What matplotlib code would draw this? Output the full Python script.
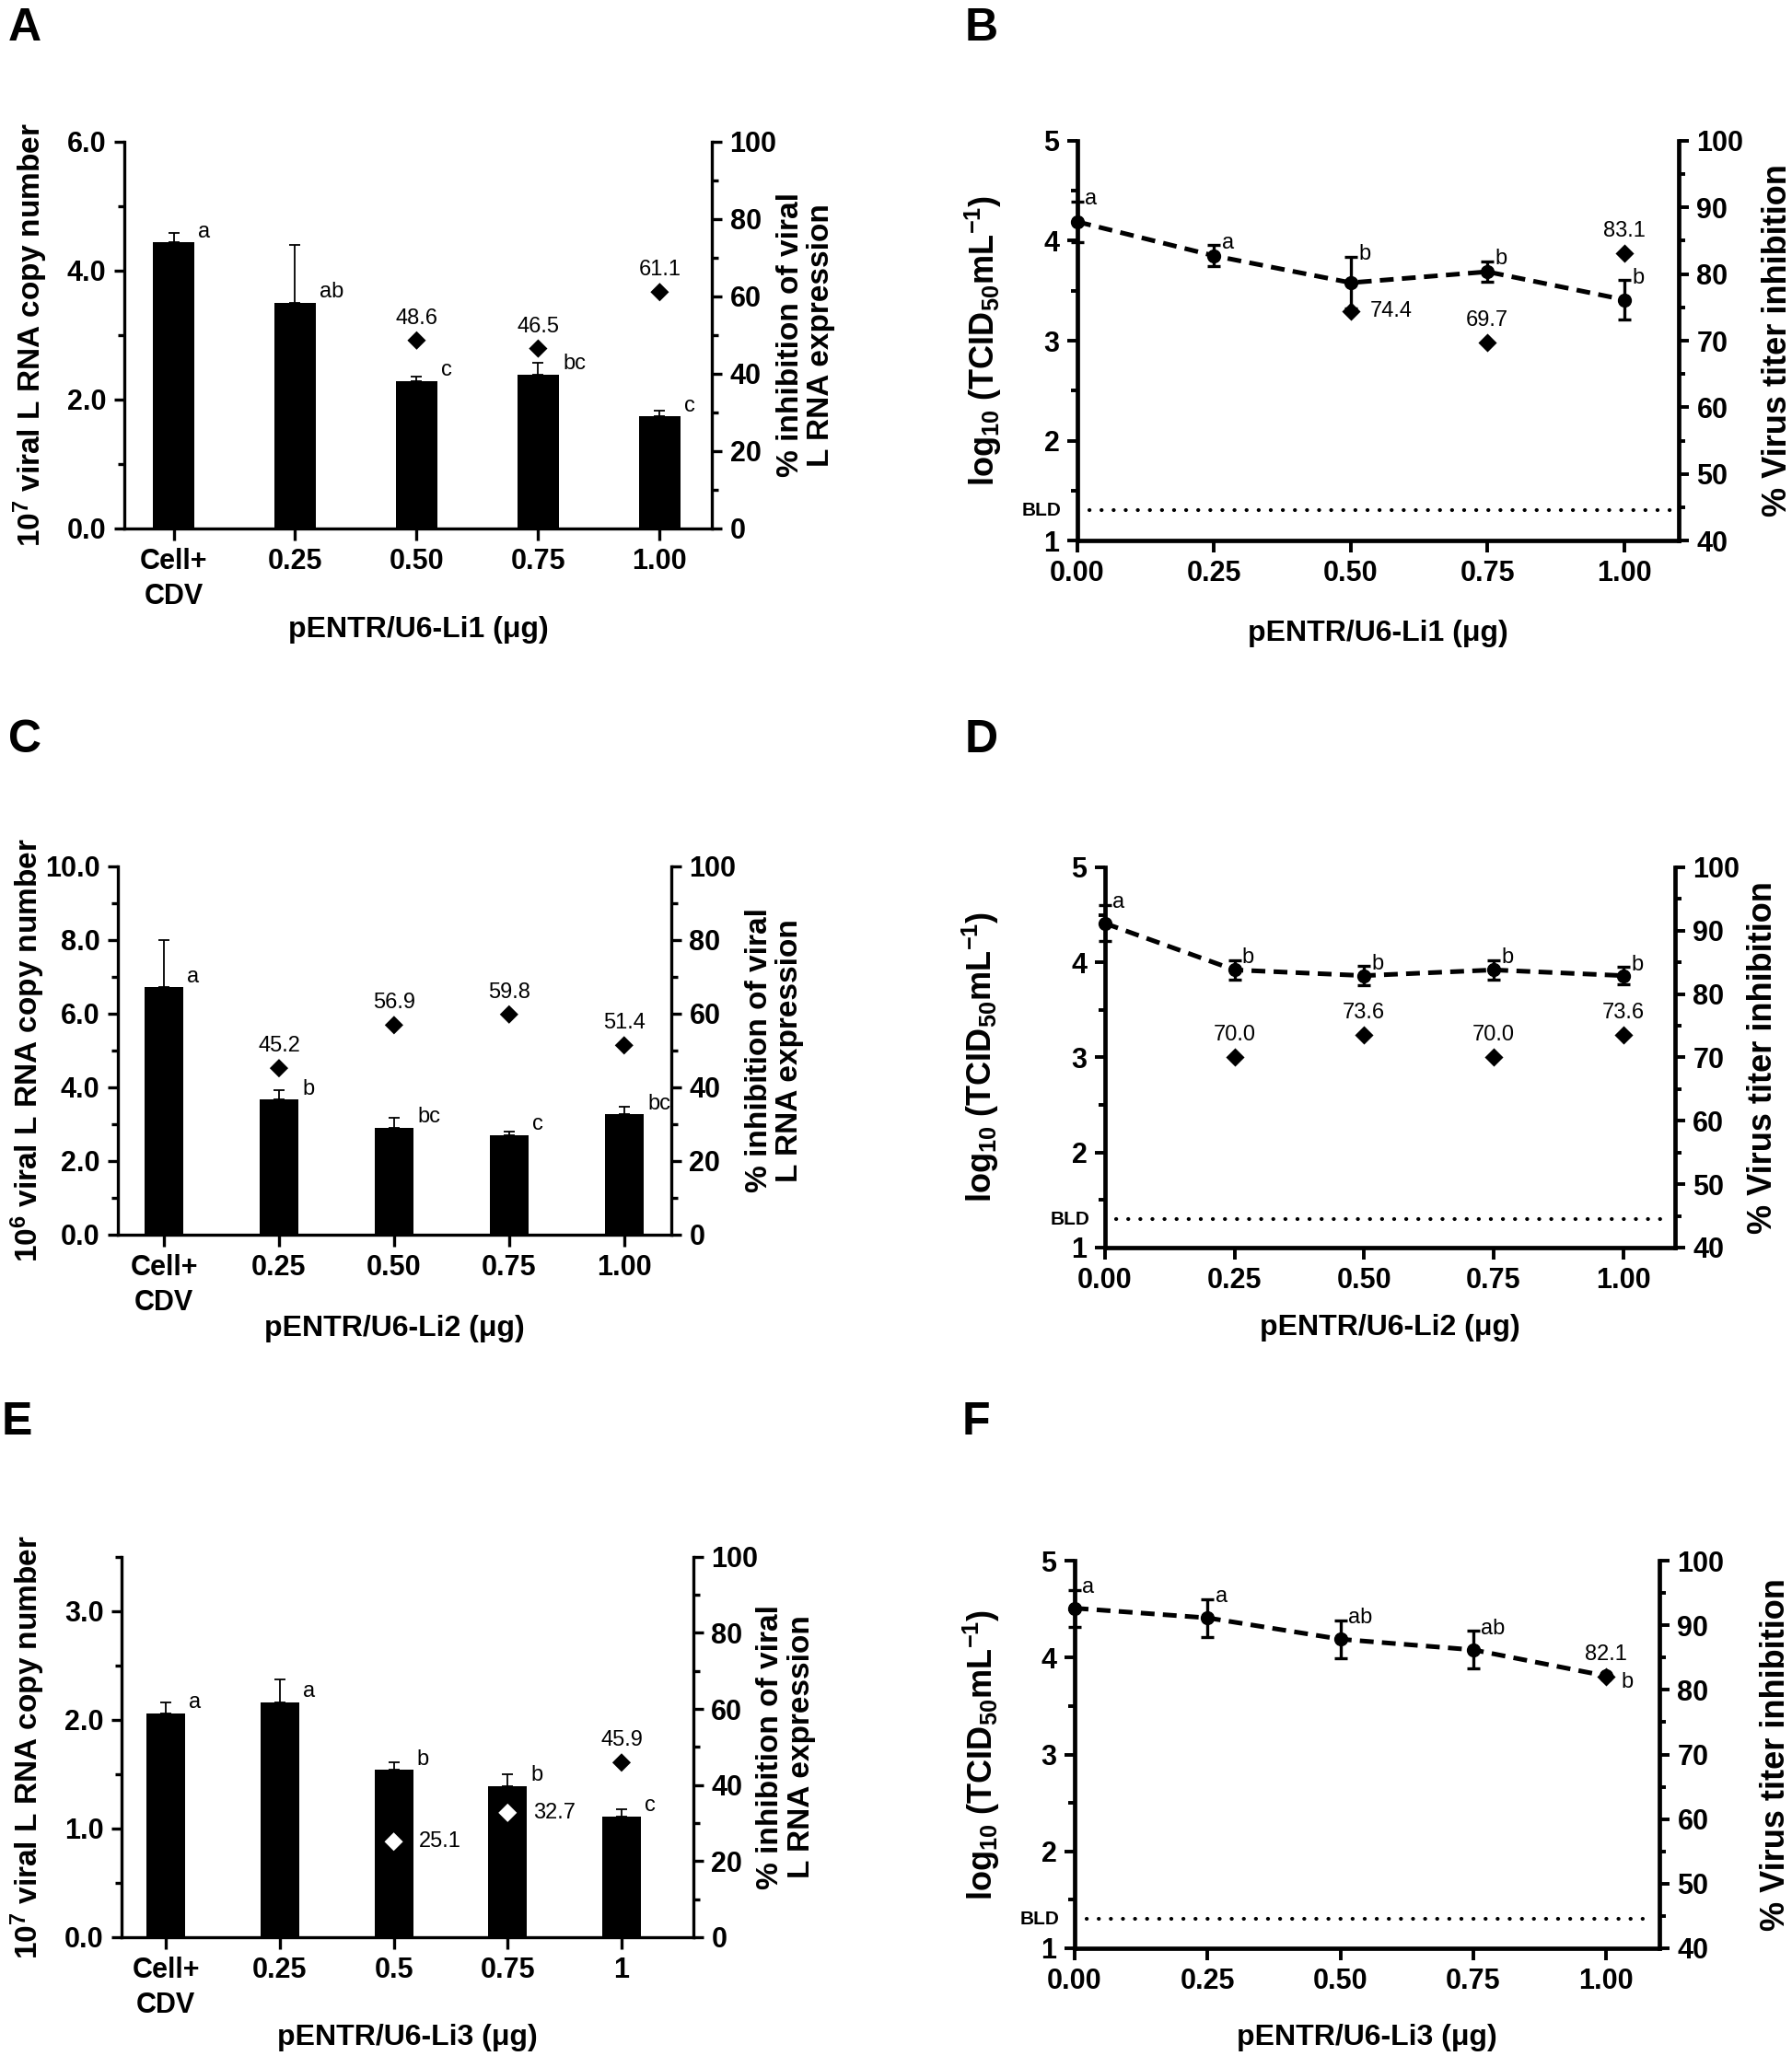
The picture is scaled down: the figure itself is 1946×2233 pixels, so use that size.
import numpy as np
import matplotlib
matplotlib.use("Agg")
import matplotlib.pyplot as plt
from matplotlib import font_manager
from matplotlib.ticker import MultipleLocator, FormatStrFormatter
from matplotlib.transforms import blended_transform_factory


def has_font(name):
    try:
        font_manager.findfont(font_manager.FontProperties(family=name), fallback_to_default=False)
        return True
    except ValueError:
        return False


plt.rcParams['font.family'] = ['Liberation Sans', 'DejaVu Sans']
plt.rcParams['font.weight'] = 'bold'
plt.rcParams['mathtext.fontset'] = 'custom'
plt.rcParams['mathtext.rm'] = 'Liberation Sans:bold'
plt.rcParams['mathtext.bf'] = 'Liberation Sans:bold'
plt.rcParams['mathtext.it'] = 'Liberation Sans:bold'

if has_font('Liberation Sans Narrow'):
    ANN_FONT, ANN_SIZE = 'Liberation Sans Narrow', 19
else:
    ANN_FONT, ANN_SIZE = 'Liberation Sans', 17

# ---------------- data ----------------
bar_labels_12 = ["Cell+\nCDV", "0.25", "0.50", "0.75", "1.00"]
bar_labels_3 = ["Cell+\nCDV", "0.25", "0.5", "0.75", "1"]

a_copy = [4.44, 3.50, 2.29, 2.39, 1.74]
a_err = [0.14, 0.90, 0.06, 0.18, 0.08]
a_letters = ["a", "ab", "c", "bc", "c"]
a_inhib = [np.nan, np.nan, 48.6, 46.5, 61.1]

c_copy = [6.72, 3.67, 2.90, 2.71, 3.27]
c_err = [1.29, 0.25, 0.28, 0.10, 0.21]
c_letters = ["a", "b", "bc", "c", "bc"]
c_inhib = [np.nan, 45.2, 56.9, 59.8, 51.4]

e_copy = [2.06, 2.16, 1.54, 1.39, 1.11]
e_err = [0.10, 0.21, 0.07, 0.11, 0.07]
e_letters = ["a", "a", "b", "b", "c"]
e_inhib = [np.nan, np.nan, 25.1, 32.7, 45.9]
e_fill = ["k", "k", "w", "w", "k"]

dose = [0.0, 0.25, 0.50, 0.75, 1.00]
bld = 1.3

b_titer = [4.19, 3.85, 3.58, 3.69, 3.41]
b_err = [0.20, 0.105, 0.26, 0.10, 0.195]
b_letters = ["a", "a", "b", "b", "b"]
b_inhib = [np.nan, np.nan, 74.4, 69.7, 83.1]

d_titer = [4.41, 3.92, 3.86, 3.92, 3.86]
d_err = [0.19, 0.10, 0.10, 0.10, 0.09]
d_letters = ["a", "b", "b", "b", "b"]
d_inhib = [np.nan, 70.0, 73.6, 70.0, 73.6]

f_titer = [4.51, 4.41, 4.19, 4.08, 3.81]
f_err = [0.19, 0.195, 0.195, 0.195, 0.0]
f_letters = ["a", "a", "ab", "ab", "b"]
f_inhib = [np.nan, np.nan, np.nan, np.nan, 82.1]

TICK_FS = 22
LAB_FS = 24
XLAB_FS = 23
DIAMOND = 105
fig = plt.figure(figsize=(19.46, 22.33), dpi=100)


def style_ticks(ax, lw):
    ax.tick_params(axis='both', which='major', labelsize=TICK_FS, width=lw, length=8, pad=6)
    ax.tick_params(axis='both', which='minor', width=lw, length=5)
    ax.tick_params(axis='x', which='major', length=9, pad=6)
    for lab in ax.get_xticklabels() + ax.get_yticklabels():
        lab.set_fontweight('bold')


def bar_panel(rect, cats, vals, errs, letters, inhib, ylim, major, minor, ylabel, xlabel,
              xlim, num_side="above", fills=None, lab_x=(-0.16, 1.18), xlab_y=-0.26):
    ax = fig.add_axes(rect)
    x = np.arange(len(vals))
    ax.bar(x, vals, width=0.34, color='k', zorder=2)
    ax.errorbar(x, vals, yerr=[np.zeros(len(errs)), errs], fmt='none', ecolor='k',
                elinewidth=1.3, capsize=4, capthick=1.3, zorder=1)
    ax.set_xlim(*xlim)
    ax.set_ylim(*ylim)
    ax.set_xticks(x)
    ax.set_xticklabels(cats, fontsize=TICK_FS, fontweight='bold', linespacing=1.35)
    ax.yaxis.set_major_locator(MultipleLocator(major))
    ax.yaxis.set_minor_locator(MultipleLocator(minor))
    ax.yaxis.set_major_formatter(FormatStrFormatter('%.1f'))
    for s in ['top', 'right']:
        ax.spines[s].set_visible(False)
    for s in ['left', 'bottom']:
        ax.spines[s].set_linewidth(2.4)
    style_ticks(ax, 2.4)

    for xi, v, lt in zip(x, vals, letters):
        ax.annotate(lt, (xi + 0.17, v), xytext=(3, 4), textcoords='offset points',
                    ha='left', va='baseline', family=ANN_FONT, fontsize=ANN_SIZE, fontweight='normal')

    ax2 = ax.twinx()
    ax2.set_ylim(0, 100)
    ax2.yaxis.set_major_locator(MultipleLocator(20))
    ax2.yaxis.set_minor_locator(MultipleLocator(10))
    for s in ['top', 'left', 'bottom']:
        ax2.spines[s].set_visible(False)
    ax2.spines['right'].set_linewidth(2.4)
    style_ticks(ax2, 2.4)
    cols = fills if fills is not None else ['k'] * len(x)
    ax2.scatter(x, inhib, marker='D', s=DIAMOND, c=cols, edgecolors=cols, linewidths=0, zorder=5)
    for xi, v in zip(x, inhib):
        if np.isnan(v):
            continue
        if num_side == "above" or (fills is not None and fills[int(xi)] == 'k'):
            ax2.annotate(f"{v:.1f}", (xi, v), xytext=(0, 13), textcoords='offset points',
                         ha='center', va='baseline', family=ANN_FONT, fontsize=ANN_SIZE,
                         fontweight='normal')
        else:
            ax2.annotate(f"{v:.1f}", (xi, v), xytext=(20, 0), textcoords='offset points',
                         ha='left', va='center', family=ANN_FONT, fontsize=ANN_SIZE,
                         fontweight='normal')

    ax.set_ylabel(ylabel, fontsize=LAB_FS, fontweight='bold', va='center')
    ax.yaxis.set_label_coords(lab_x[0], 0.5)
    ax2.set_ylabel("% inhibition of viral\nL RNA expression", fontsize=LAB_FS,
                   fontweight='bold', va='center', rotation=90, linespacing=1.1)
    ax2.yaxis.set_label_coords(lab_x[1], 0.5)
    ax.set_xlabel(xlabel, fontsize=XLAB_FS, fontweight='bold', va='center')
    ax.xaxis.set_label_coords(0.5, xlab_y)
    return ax, ax2


def line_panel(rect, titer, errs, letters, inhib, xlabel, num_pos, lab_x, xlab_y,
               letter_offsets=None):
    ax = fig.add_axes(rect)
    ax.plot(dose, titer, color='k', lw=3.6, ls=(0, (3.0, 1.8)), zorder=3, clip_on=False)
    eb = ax.errorbar(dose, titer, yerr=errs, fmt='o', ms=10, color='k', ecolor='k',
                     elinewidth=2.4, capsize=4.8, capthick=2.4, zorder=4, clip_on=False)
    for art in list(eb[1]) + list(eb[2]):
        art.set_clip_on(False)
    ax.set_xlim(0, 1.1)
    ax.set_ylim(1, 5)
    ax.set_xticks(dose)
    ax.xaxis.set_major_formatter(FormatStrFormatter('%.2f'))
    ax.yaxis.set_major_locator(MultipleLocator(1))
    ax.yaxis.set_minor_locator(MultipleLocator(0.5))
    ax.yaxis.set_major_formatter(FormatStrFormatter('%d'))
    ax.spines['top'].set_visible(False)
    ax.spines['right'].set_visible(False)
    for s in ['left', 'bottom']:
        ax.spines[s].set_linewidth(3.4)
    style_ticks(ax, 2.8)

    ax.axhline(bld, xmin=0.02, xmax=0.99, color='k', lw=3.0, ls=(0, (0.05, 3.1)),
               dash_capstyle='round')
    tr = blended_transform_factory(ax.transAxes, ax.transData)
    ax.text(-0.026, bld, "BLD", transform=tr, ha='right', va='center', fontsize=15,
            fontweight='bold')

    for i, (xi, v, e, lt) in enumerate(zip(dose, titer, errs, letters)):
        off = letter_offsets[i] if letter_offsets else (6, 2)
        ax.annotate(lt, (xi, v + e), xytext=off, textcoords='offset points', ha='left',
                    va='center', family=ANN_FONT, fontsize=ANN_SIZE, fontweight='normal')

    ax2 = ax.twinx()
    ax2.set_ylim(40, 100)
    ax2.yaxis.set_major_locator(MultipleLocator(10))
    ax2.yaxis.set_minor_locator(MultipleLocator(5))
    for s in ['top', 'left', 'bottom']:
        ax2.spines[s].set_visible(False)
    ax2.spines['right'].set_linewidth(3.4)
    style_ticks(ax2, 2.8)
    ax2.scatter(dose, inhib, marker='D', s=DIAMOND, c='k', linewidths=0, zorder=5)
    for xi, v, pos in zip(dose, inhib, num_pos):
        if np.isnan(v):
            continue
        if pos == "above":
            ax2.annotate(f"{v:.1f}", (xi, v), xytext=(0, 13), textcoords='offset points',
                         ha='center', va='baseline', family=ANN_FONT, fontsize=ANN_SIZE,
                         fontweight='normal')
        else:
            ax2.annotate(f"{v:.1f}", (xi, v), xytext=(15, 0), textcoords='offset points',
                         ha='left', va='center', family=ANN_FONT, fontsize=ANN_SIZE,
                         fontweight='normal')

    ax.set_ylabel(r"log$_{10}$ (TCID$_{50}$mL$^{-1}$)", fontsize=26, fontweight='bold',
                  va='center')
    ax.yaxis.set_label_coords(lab_x[0], 0.5)
    ax2.set_ylabel("% Virus titer inhibition", fontsize=26, fontweight='bold', va='center',
                   rotation=90)
    ax2.yaxis.set_label_coords(lab_x[1], 0.5)
    ax.set_xlabel(xlabel, fontsize=XLAB_FS, fontweight='bold', va='center')
    ax.xaxis.set_label_coords(0.5, xlab_y)
    return ax, ax2


# A
bar_panel([0.0694, 0.7430, 0.3279, 0.1881], bar_labels_12, a_copy, a_err, a_letters, a_inhib,
          (0, 6), 2, 1, r"10$^{7}$ viral L RNA copy number", "pENTR/U6-Li1 (\u03bcg)",
          (-0.405, 4.43), lab_x=(-0.160, 1.160), xlab_y=-0.262)
# C
bar_panel([0.0658, 0.3995, 0.3088, 0.1791], bar_labels_12, c_copy, c_err, c_letters, c_inhib,
          (0, 10), 2, 1, r"10$^{6}$ viral L RNA copy number", "pENTR/U6-Li2 (\u03bcg)",
          (-0.40, 4.41), lab_x=(-0.163, 1.186), xlab_y=-0.255)
# E
bar_panel([0.0678, 0.0578, 0.3191, 0.1850], bar_labels_3, e_copy, e_err, e_letters, e_inhib,
          (0, 3.5), 1, 0.5, r"10$^{7}$ viral L RNA copy number", "pENTR/U6-Li3 (\u03bcg)",
          (-0.39, 4.63), num_side="right", fills=e_fill, lab_x=(-0.164, 1.162), xlab_y=-0.264)

# B
line_panel([0.6012, 0.7371, 0.3356, 0.1944], b_titer, b_err, b_letters, b_inhib,
           "pENTR/U6-Li1 (\u03bcg)", ["", "", "right", "above", "above"],
           lab_x=(-0.156, 1.164), xlab_y=-0.233)
# D
line_panel([0.6166, 0.3932, 0.3181, 0.1850], d_titer, d_err, d_letters, d_inhib,
           "pENTR/U6-Li2 (\u03bcg)", ["", "above", "above", "above", "above"],
           lab_x=(-0.218, 1.155), xlab_y=-0.21)
# F
line_panel([0.5997, 0.0524, 0.3263, 0.1885], f_titer, f_err, f_letters, f_inhib,
           "pENTR/U6-Li3 (\u03bcg)", ["", "", "", "", "above"],
           lab_x=(-0.16, 1.20), xlab_y=-0.23,
           letter_offsets=[(6, 2), (6, 2), (6, 2), (6, 2), (12, -5)])

# panel letters
for lt, px, py in [("A", 9, 8), ("B", 1048, 8), ("C", 9, 781), ("D", 1048, 781),
                   ("E", 2, 1522), ("F", 1045, 1522)]:
    fig.text(px / 1946, 1 - py / 2233, lt, ha='left', va='top', fontsize=36, fontweight='bold')

fig.savefig("out.png", dpi=100)
